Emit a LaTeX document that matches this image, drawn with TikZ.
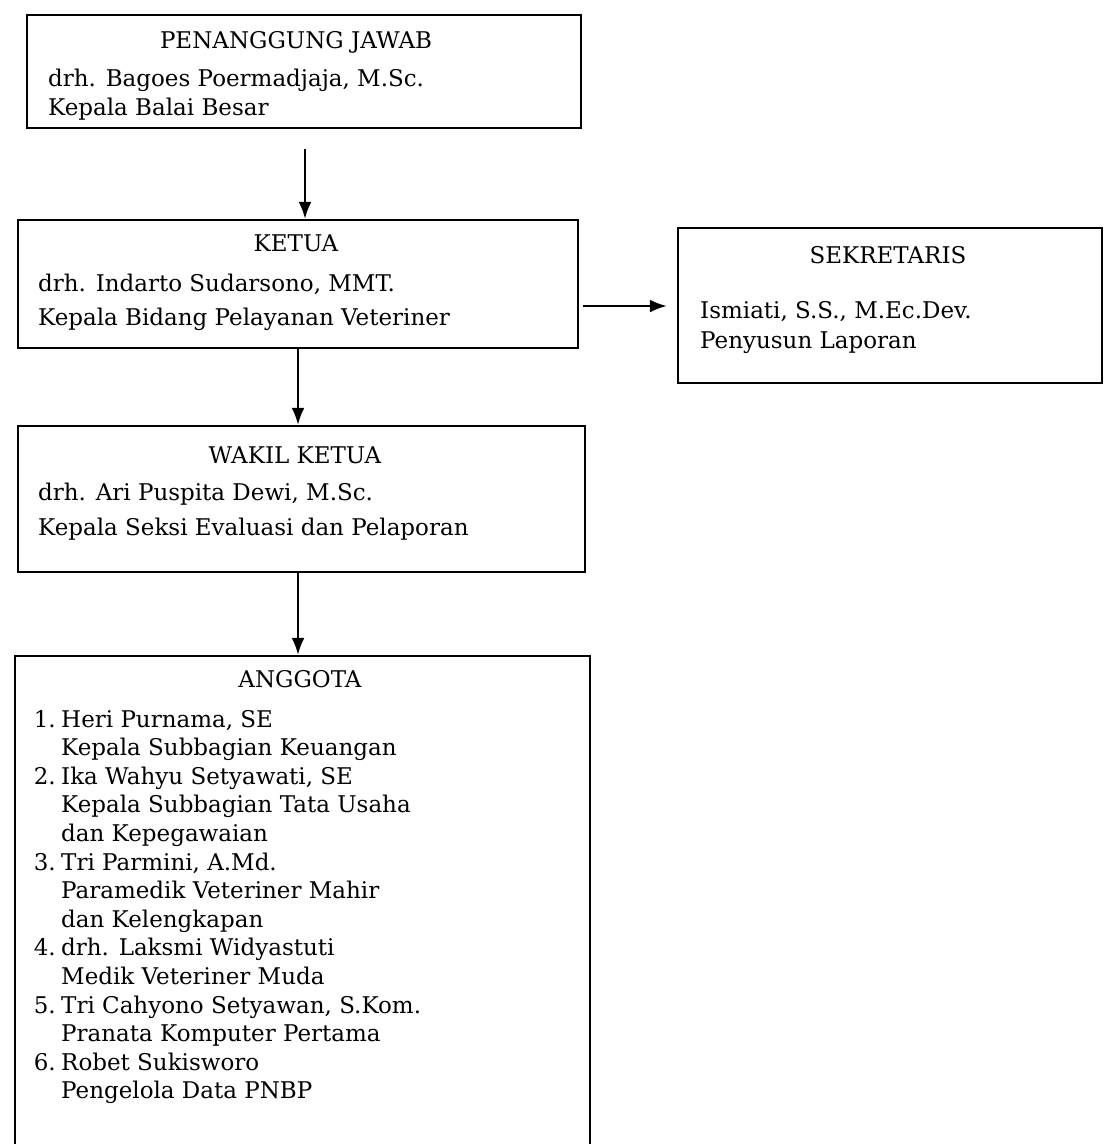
\documentclass[tikz,border=0pt]{standalone}
\usepackage{fontspec}
\setmainfont{DejaVu Serif}
\usetikzlibrary{arrows.meta}
\tikzset{
  box/.style={draw, line width=2.4pt, rectangle, inner sep=0pt},
  txt/.style={anchor=base west, inner sep=0pt, font=\fontsize{23}{28}\selectfont},
  ttl/.style={anchor=base, inner sep=0pt, font=\fontsize{23}{28}\selectfont},
  conn/.style={line width=2.2pt, -{Latex[length=17pt,width=13pt]}}
}
\begin{document}
\begin{tikzpicture}[x=1pt,y=-1pt]
\useasboundingbox (0,0) rectangle (1104,1144);
\clip (0,0) rectangle (1104,1144);
% boxes
\node[box, minimum width=554pt, minimum height=113pt] (pj) at (304,71.5) {};
\node[box, minimum width=560pt, minimum height=128pt] (ketua) at (298,284) {};
\node[box, minimum width=424pt, minimum height=155pt] (sek) at (890,305.5) {};
\node[box, minimum width=567pt, minimum height=146pt] (wakil) at (301.5,499) {};
\node[box, minimum width=575pt, minimum height=500pt] (ang) at (302.5,906) {};
% texts
\node[ttl] (pjt) at (296,48) {PENANGGUNG JAWAB};
\node[txt] (pj1) at (48,86) {drh. Bagoes Poermadjaja, M.Sc.};
\node[txt] (pj2) at (48,115) {Kepala Balai Besar};
\node[ttl] (kt) at (296,251) {KETUA};
\node[txt] (k1) at (38,291) {drh. Indarto Sudarsono, MMT.};
\node[txt] (k2) at (38,325) {Kepala Bidang Pelayanan Veteriner};
\node[ttl] (st) at (888,263) {SEKRETARIS};
\node[txt] (s1) at (700,318) {Ismiati, S.S., M.Ec.Dev.};
\node[txt] (s2) at (700,348) {Penyusun Laporan};
\node[ttl] (wt) at (295,463) {WAKIL KETUA};
\node[txt] (w1) at (38,500) {drh. Ari Puspita Dewi, M.Sc.};
\node[txt] (w2) at (38,535) {Kepala Seksi Evaluasi dan Pelaporan};
\node[ttl] (at) at (300,687) {ANGGOTA};
\foreach \n/\t [count=\i from 0] in {1./{Heri Purnama, SE}, /Kepala Subbagian Keuangan, 2./{Ika Wahyu Setyawati, SE}, /Kepala Subbagian Tata Usaha, /dan Kepegawaian, 3./{Tri Parmini, A.Md.}, /Paramedik Veteriner Mahir, /dan Kelengkapan, 4./drh. Laksmi Widyastuti, /Medik Veteriner Muda, 5./{Tri Cahyono Setyawan, S.Kom.}, /Pranata Komputer Pertama, 6./Robet Sukisworo, /Pengelola Data PNBP}{
  \node[txt, anchor=base east] (n\i) at (56,{727+\i*28.6}) {\n};
  \node[txt] (l\i) at (61,{727+\i*28.6}) {\t};
}
% connectors
\draw[conn] (pj.south) ++(1,20) coordinate (c1) (c1) -- (ketua.north -| c1);
\draw[conn] (ketua.south) -- (wakil.north -| ketua.south);
\draw[conn] (wakil.south -| ketua.south) ++(0,0) coordinate (c3) (c3) -- (ang.north -| c3);
\draw[conn] (ketua.east) ++(4,22) coordinate (c2) (c2) -- ([xshift=-10pt]sek.west |- c2);
\end{tikzpicture}
\end{document}
